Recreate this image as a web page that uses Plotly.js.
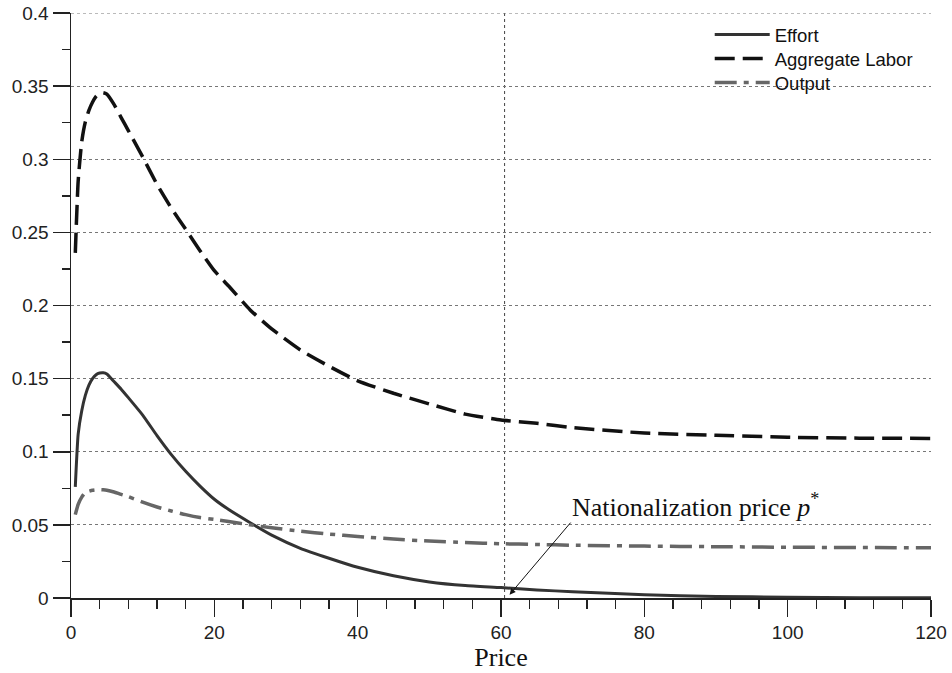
<!DOCTYPE html>
<html>
<head>
<meta charset="utf-8">
<script src="https://cdn.plot.ly/plotly-3.0.1.min.js"></script>
<style>html,body{margin:0;padding:0;background:#fff;}#chart{width:952px;height:673px;}</style>
</head>
<body>
<div id="chart"></div>
<script>
// Price grid (x values)
const price = [0.6, 1, 1.5, 2, 2.5, 3, 3.5, 4, 4.5, 5, 6, 7, 8, 10, 12, 14, 16, 18, 20, 22, 25, 28, 32, 36, 40, 45, 50, 55, 60, 65, 70, 80, 90, 100, 110, 120];
// Series values
const effort = [0.076, 0.112, 0.128, 0.1385, 0.1455, 0.150, 0.1527, 0.1538, 0.154, 0.1532, 0.148, 0.1428, 0.137, 0.1251, 0.111, 0.098, 0.0866, 0.0765, 0.0675, 0.0605, 0.0515, 0.043, 0.034, 0.0272, 0.021, 0.0152, 0.011, 0.0085, 0.0071, 0.0055, 0.0043, 0.0022, 0.0011, 0.0005, 0.0002, 0.0001];
const aggregateLabor = [0.236, 0.285, 0.312, 0.3255, 0.3335, 0.339, 0.343, 0.3452, 0.3455, 0.3445, 0.3375, 0.3285, 0.3196, 0.3016, 0.2828, 0.2666, 0.2521, 0.2375, 0.2238, 0.2133, 0.197, 0.184, 0.1696, 0.1585, 0.1485, 0.140, 0.1327, 0.1257, 0.1217, 0.1195, 0.1165, 0.1128, 0.1113, 0.1099, 0.1093, 0.1091];
const output = [0.057, 0.064, 0.069, 0.072, 0.073, 0.0737, 0.074, 0.0741, 0.074, 0.0737, 0.0725, 0.0708, 0.0693, 0.0655, 0.0622, 0.0595, 0.057, 0.055, 0.0537, 0.0523, 0.050, 0.048, 0.0457, 0.0437, 0.0421, 0.0403, 0.0389, 0.0379, 0.0371, 0.0366, 0.0361, 0.0355, 0.0351, 0.0347, 0.0345, 0.0343];
const seriesNames = ["Effort", "Aggregate Labor", "Output"];
// Tick labels
const xTickVals = [0, 20, 40, 60, 80, 100, 120];
const xTickText = ["0", "20", "40", "60", "80", "100", "120"];
const yTickVals = [0, 0.05, 0.1, 0.15, 0.2, 0.25, 0.3, 0.35, 0.4];
const yTickText = ["0", "0.05", "0.1", "0.15", "0.2", "0.25", "0.3", "0.35", "0.4"];
// Nationalization price and annotation
const pStar = 60.5;
const annoText = "Nationalization price <i>p</i><sup>*</sup>";
const arrowHead = [61.2, 0.0023];

const sansFont = "Liberation Sans, Arial, sans-serif";
const serifFont = "Liberation Serif, Times New Roman, serif";

const traces = [
  {x: price, y: effort, name: seriesNames[0], mode: "lines", legend: "legend",
   line: {color: "#333333", width: 3, shape: "spline", smoothing: 0.5}},
  {x: price, y: aggregateLabor, name: seriesNames[1], mode: "lines", legend: "legend2",
   line: {color: "#111111", width: 3.5, dash: "20px,8px", shape: "spline", smoothing: 0.5}},
  {x: price, y: output, name: seriesNames[2], mode: "lines", legend: "legend3",
   line: {color: "#666666", width: 3.5, dash: "22px,7px,5px,7px", shape: "spline", smoothing: 0.5}}
];

function legendAt(yPaper) {
  return {x: 0.7427, y: yPaper, xanchor: "left", yanchor: "middle", bgcolor: "rgba(0,0,0,0)",
          font: {family: sansFont, size: 18.5, color: "#111111"}, itemwidth: 55};
}

const layout = {
  width: 952, height: 673,
  margin: {l: 71, r: 21, t: 13, b: 75},
  paper_bgcolor: "#ffffff", plot_bgcolor: "#ffffff",
  font: {family: sansFont, size: 19, color: "#222222"},
  showlegend: true,
  legend: legendAt(0.9624),
  legend2: legendAt(0.9214),
  legend3: legendAt(0.8803),
  xaxis: {
    range: [0, 120], showgrid: false, zeroline: false,
    showline: true, linecolor: "#222222", linewidth: 1.5,
    ticks: "outside", ticklen: 17, tickwidth: 1.5, tickcolor: "#222222",
    tickmode: "array", tickvals: xTickVals, ticktext: xTickText,
    minor: {dtick: 4, tick0: 0, ticks: "outside", ticklen: 9, tickwidth: 1.5, tickcolor: "#222222", showgrid: false},
    title: {text: "Price", font: {family: serifFont, size: 26, color: "#111111"}, standoff: 4},
    tickfont: {family: sansFont, size: 19, color: "#222222"}
  },
  yaxis: {
    range: [0, 0.4], zeroline: false,
    showgrid: true, gridcolor: "#777777", gridwidth: 1, griddash: "dot",
    showline: true, linecolor: "#222222", linewidth: 1.5,
    ticks: "outside", ticklen: 17, tickwidth: 1.5, tickcolor: "#222222",
    tickmode: "array", tickvals: yTickVals, ticktext: yTickText,
    minor: {dtick: 0.025, tick0: 0, ticks: "outside", ticklen: 8, tickwidth: 1.5, tickcolor: "#222222", showgrid: false},
    tickfont: {family: sansFont, size: 19, color: "#222222"}
  },
  shapes: [
    {type: "line", xref: "x", yref: "y", x0: pStar, x1: pStar, y0: 0, y1: 0.4,
     line: {color: "#444444", width: 1, dash: "dot"}, layer: "below"},
    {type: "line", xref: "x", yref: "y", x0: 0, x1: 120, y0: 0.4, y1: 0.4,
     line: {color: "#777777", width: 1, dash: "dot"}, layer: "below"}
  ],
  annotations: [
    {x: arrowHead[0], y: arrowHead[1], xref: "x", yref: "y", ax: 61, ay: -72, axref: "pixel", ayref: "pixel",
     xanchor: "left", yanchor: "bottom", borderpad: 0,
     text: annoText, font: {family: serifFont, size: 26, color: "#111111"},
     showarrow: true, arrowhead: 2, arrowsize: 1.2, arrowwidth: 1, arrowcolor: "#111111", standoff: 0}
  ]
};

Plotly.newPlot("chart", traces, layout, {displayModeBar: false, staticPlot: true});
</script>
</body>
</html>
